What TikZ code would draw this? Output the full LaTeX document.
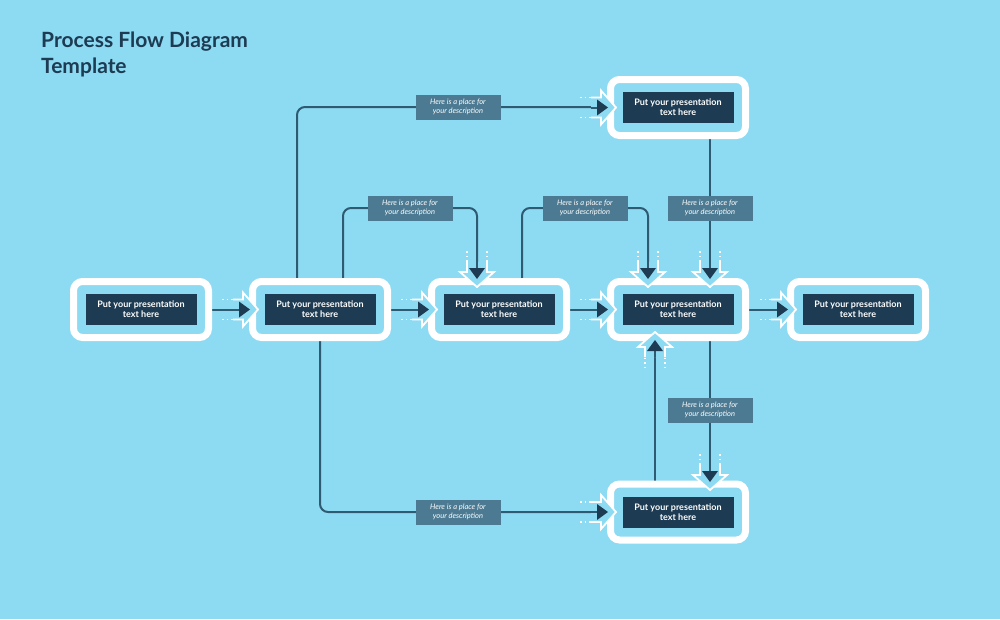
\documentclass[tikz,border=0pt]{standalone}
\usepackage{fontspec}
\setmainfont{Lato}
\definecolor{bg}{HTML}{8DDAF3}
\definecolor{ln}{HTML}{2F5B72}
\definecolor{lab}{HTML}{4B7A92}
\definecolor{dk}{HTML}{1D3B52}
\tikzset{
 outer/.style={draw=white,line width=7pt,rounded corners=9pt,fill=bg,minimum width=135pt,minimum height=56pt},
 inner/.style={fill=dk,text=white,font=\fontsize{9}{10}\selectfont\bfseries,align=center,minimum width=111pt,minimum height=31pt,inner sep=0pt},
 lbl/.style={fill=lab,text=white,font=\fontsize{7.5}{8.5}\selectfont\itshape,align=center,minimum width=85pt,minimum height=25pt,inner sep=0pt},
 conn/.style={draw=ln,line width=2pt,rounded corners=8pt},
}
\newcommand\inarrow[3]{\begin{scope}[shift={(#1,#2)},rotate=#3]
 \draw[white,line width=1.3pt,dash pattern=on 1.5pt off 3pt] (-36,-10)--(-25,-10) (-36,10)--(-25,10);
 \fill[bg] (-25,-9) rectangle (-14,9);
 \filldraw[fill=bg,draw=white,line width=1.8pt,line join=miter] (-25,-10)--(-15,-10)--(-15,-17)--(0,0)--(-15,17)--(-15,10)--(-25,10);
 \draw[ln,line width=2pt] (-25,0)--(-16,0);
 \fill[dk] (-8,0)--(-19,-8)--(-19,8)--cycle;
\end{scope}}
\newcommand\bx[3]{\node[outer] (#1) at (#2,#3) {}; \node[inner] (#1i) at (#2,#3) {Put your presentation\\text here};}
\begin{document}
\begin{tikzpicture}[x=1pt,y=-1pt]
\fill[bg] (0,0) rectangle (1000,619);
\useasboundingbox (0,0) rectangle (1000,619);
\node[anchor=north west,text=dk,font=\fontsize{21}{26}\selectfont\bfseries,align=left,inner sep=0pt] (title) at (41,32) {Process Flow Diagram\\Template};
% connectors
\coordinate (c1) at (297,278); \coordinate (c1e) at (598,107);
\draw[conn] (c1) |- (c1e);
\draw[conn] (343,278) |- (410,208) -| (477,268);
\draw[conn] (522,278) |- (585,208) -| (648,268);
\draw[conn] (710,139) -- (710,268);
\draw[conn] (710,341) -- (710,472);
\draw[conn] (655,481) -- (655,350);
\draw[conn] (320,341) |- (598,512);
\draw[conn] (212,309.5) -- (240,309.5);
\draw[conn] (391,309.5) -- (419,309.5);
\draw[conn] (570,309.5) -- (598,309.5);
\draw[conn] (749,309.5) -- (778,309.5);
% boxes
\bx{b1}{141}{309.5}
\bx{b2}{320}{309.5}
\bx{b3}{499}{309.5}
\bx{b4}{678}{309.5}
\bx{b5}{858}{309.5}
\bx{bt}{678}{107.5}
\bx{bb}{678}{512}
% labels
\node[lbl] (l1) at (458,107) {Here is a place for\\your description};
\node[lbl] (l2) at (410,208) {Here is a place for\\your description};
\node[lbl] (l3) at (585,208) {Here is a place for\\your description};
\node[lbl] (l4) at (710,208) {Here is a place for\\your description};
\node[lbl] (l5) at (710,410) {Here is a place for\\your description};
\node[lbl] (l6) at (458,512) {Here is a place for\\your description};
% arrows
\inarrow{258}{309.5}{0}
\inarrow{437}{309.5}{0}
\inarrow{616}{309.5}{0}
\inarrow{796}{309.5}{0}
\inarrow{616}{107.5}{0}
\inarrow{616}{512}{0}
\inarrow{477}{287}{-90}
\inarrow{648}{287}{-90}
\inarrow{710}{287}{-90}
\inarrow{710}{490}{-90}
\inarrow{655}{332}{90}
\end{tikzpicture}
\end{document}
